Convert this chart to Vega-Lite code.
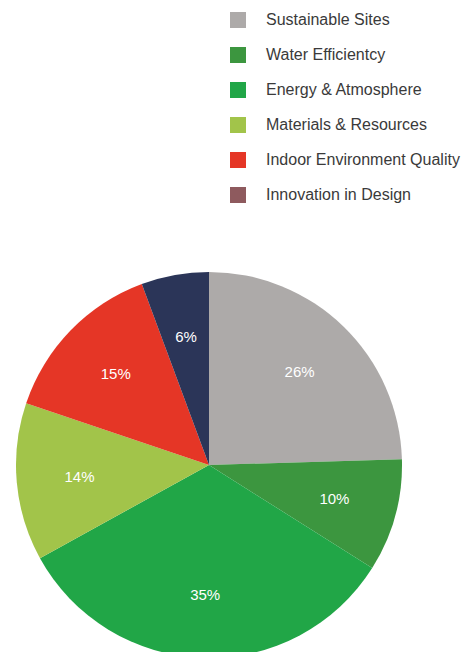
{
  "$schema": "https://vega.github.io/schema/vega-lite/v6.json",
  "width": 418,
  "height": 930,
  "autosize": {"type": "none"},
  "padding": {"left": 0, "top": 0, "right": 58, "bottom": 0},
  "background": "white",
  "config": {"view": {"stroke": null}},
  "data": {
    "values": [
      {"idx": 1, "category": "Sustainable Sites", "value": 26, "label": "26%"},
      {"idx": 2, "category": "Water Efficientcy", "value": 10, "label": "10%"},
      {"idx": 3, "category": "Energy & Atmosphere", "value": 35, "label": "35%"},
      {"idx": 4, "category": "Materials & Resources", "value": 14, "label": "14%"},
      {"idx": 5, "category": "Indoor Environment Quality", "value": 15, "label": "15%"},
      {"idx": 6, "category": "Innovation in Design", "value": 6, "label": "6%"}
    ]
  },
  "resolve": {"scale": {"color": "independent"}, "legend": {"color": "independent"}},
  "layer": [
    {
      "mark": {"type": "arc", "radius": 193, "stroke": null},
      "encoding": {
        "theta": {"field": "value", "type": "quantitative", "stack": true},
        "order": {"field": "idx", "type": "quantitative", "sort": "ascending"},
        "color": {
          "field": "category",
          "type": "nominal",
          "sort": ["Sustainable Sites", "Water Efficientcy", "Energy & Atmosphere", "Materials & Resources", "Indoor Environment Quality", "Innovation in Design"],
          "scale": {
            "domain": ["Sustainable Sites", "Water Efficientcy", "Energy & Atmosphere", "Materials & Resources", "Indoor Environment Quality", "Innovation in Design"],
            "range": ["#ADAAA9", "#3C963F", "#21A647", "#A2C44A", "#E53626", "#2B3558"]
          },
          "legend": null
        }
      }
    },
    {
      "mark": {"type": "text", "radius": 130, "font": "Liberation Sans", "fontSize": 15, "fill": "white"},
      "encoding": {
        "theta": {"field": "value", "type": "quantitative", "stack": true},
        "order": {"field": "idx", "type": "quantitative", "sort": "ascending"},
        "text": {"field": "label"}
      }
    },
    {
      "mark": {"type": "point", "filled": true, "shape": "square", "size": 0},
      "encoding": {
        "color": {
          "field": "category",
          "type": "nominal",
          "sort": ["Sustainable Sites", "Water Efficientcy", "Energy & Atmosphere", "Materials & Resources", "Indoor Environment Quality", "Innovation in Design"],
          "scale": {
            "domain": ["Sustainable Sites", "Water Efficientcy", "Energy & Atmosphere", "Materials & Resources", "Indoor Environment Quality", "Innovation in Design"],
            "range": ["#ADAAA9", "#3C963F", "#21A647", "#A2C44A", "#E53626", "#8E5A5E"]
          },
          "legend": {
            "title": null,
            "orient": "none",
            "legendX": 230,
            "legendY": 12,
            "symbolType": "square",
            "symbolSize": 256,
            "symbolStrokeWidth": 0,
            "symbolOpacity": 1,
            "labelFont": "Liberation Sans",
            "labelFontSize": 16,
            "labelColor": "#3a3a3a",
            "labelOffset": 20,
            "rowPadding": 19,
            "labelLimit": 300
          }
        }
      }
    }
  ]
}
